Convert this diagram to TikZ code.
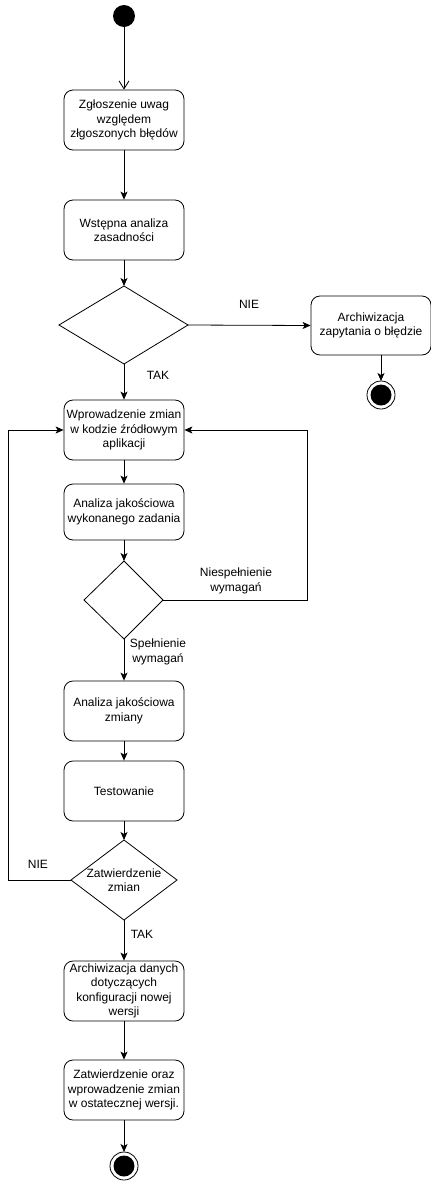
\documentclass[tikz,border=0pt]{standalone}
\usepackage{fontspec}
\setmainfont{Liberation Sans}
\usetikzlibrary{arrows.meta,shapes.geometric}
\begin{document}
\begin{tikzpicture}[x=1pt,y=-1pt,
  every node/.style={font=\fontsize{12}{14.5}\selectfont},
  act/.style={draw,line width=0.8pt,rounded corners=9pt,minimum width=120pt,minimum height=60pt,align=center,inner sep=1pt},
  dec/.style={draw,line width=0.8pt,diamond,aspect=1,inner sep=0pt,align=center},
  lab/.style={align=center,inner sep=0pt},
  flow/.style={line width=0.8pt,-{Stealth[length=8pt,width=7pt,inset=2pt]}},
  plain/.style={line width=0.8pt}]
\useasboundingbox (0,0) rectangle (431,1184);
\fill (124,16) circle (11) node (start) {};
\node[act] (b1) at (124,120) {Zgłoszenie uwag\\względem\\złgoszonych błędów};
\node[act] (b2) at (124,230) {Wstępna analiza\\zasadności};
\coordinate (d1) at (124,325);
\draw[line width=0.8pt] (59,325) -- (124,286) -- (188,325) -- (124,364) -- cycle;
\coordinate (d1l) at (59,325); \coordinate (d1r) at (188,325);
\coordinate (d1t) at (124,286); \coordinate (d1b) at (124,364);
\node[act,minimum height=59pt] (arch) at (371,325.5) {Archiwizacja\\zapytania o błędzie};
\draw[line width=0.8pt] (381,395) circle (14);
\fill (381,395) circle (10.5);
\coordinate (e1) at (381,381);
\node[act] (b3) at (124,430) {Wprowadzenie zmian\\w kodzie źródłowym\\aplikacji};
\node[act,minimum height=56pt] (b4) at (124,512) {Analiza jakościowa\\wykonanego zadania};
\draw[line width=0.8pt] (84,600) -- (124,561) -- (163,600) -- (124,639) -- cycle;
\coordinate (d2l) at (84,600); \coordinate (d2r) at (163,600);
\coordinate (d2t) at (124,561); \coordinate (d2b) at (124,639);
\node[act] (b5) at (124,711) {Analiza jakościowa\\zmiany};
\node[act] (b6) at (124,791) {Testowanie};
\draw[line width=0.8pt] (71,880) -- (124,840) -- (177,880) -- (124,920) -- cycle;
\coordinate (d3l) at (71,880); \coordinate (d3r) at (177,880);
\coordinate (d3t) at (124,840); \coordinate (d3b) at (124,920);
\node[lab] (d3) at (124,880) {Zatwierdzenie\\zmian};
\node[act] (b7) at (124,991) {Archiwizacja danych\\dotyczących\\konfiguracji nowej\\wersji};
\node[act] (b8) at (124,1090) {Zatwierdzenie oraz\\wprowadzenie zmian\\w ostatecznej wersji.};
\draw[line width=0.8pt] (124,1166) circle (14);
\fill (124,1166) circle (10.5);
\coordinate (e2) at (124,1152);
% connectors
\draw[line width=0.8pt,-{Straight Barb[length=8pt,width=10pt]}] (124,27) -- (b1.north);
\draw[flow] (b1) -- (b2);
\draw[flow] (b2) -- (d1t);
\draw[flow] (d1r) -- (arch.west);
\draw[flow] (arch.south -| e1) -- (e1);
\draw[flow] (d1b) -- (b3);
\draw[flow] (b3) -- (b4);
\draw[flow] (b4) -- (d2t);
\draw[flow] (d2r) -- (307,600) -- (307,430) -- (b3.east);
\draw[flow] (d2b) -- (b5);
\draw[flow] (b5) -- (b6);
\draw[flow] (b6) -- (d3t);
\draw[flow] (d3l) -- (8,880) -- (8,430) -- (b3.west);
\draw[flow] (d3b) -- (b7);
\draw[flow] (b7) -- (b8);
\draw[flow] (b8) -- (e2);
% labels
\node[lab] (l1) at (249,304) {NIE};
\node[lab] (l2) at (158,375) {TAK};
\node[lab] (l3) at (236,581) {Niespełnienie\\wymagań};
\node[lab] (l4) at (158,652) {Spełnienie\\wymagań};
\node[lab] (l5) at (38,864) {NIE};
\node[lab] (l6) at (142,934) {TAK};
\end{tikzpicture}
\end{document}
